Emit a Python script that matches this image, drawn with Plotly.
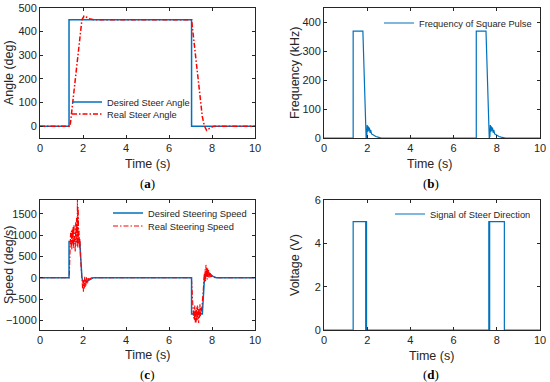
import plotly.graph_objects as go

# ---------------- data ----------------
# (a) steer angle
t_des_angle = [0, 1.35, 1.35, 7.05, 7.05, 10]
des_angle = [0, 0, 450, 450, 0, 0]
t_real_angle = [0, 1.40, 1.95, 2.05, 2.15, 2.3, 2.5, 7.05, 7.55, 7.65, 7.75, 7.9, 8.1, 10]
real_angle = [0, 0, 450, 466, 462, 455, 450, 450, 40, 0, -18, -8, 0, 0]

# (b) frequency of square pulse
t_freq = [0, 1.35, 1.35, 1.80, 1.95, 1.98, 2.00, 2.03, 2.05, 2.08, 2.10, 2.13, 2.16, 2.20, 2.25,
          2.30, 2.40, 2.50, 2.65, 7.05, 7.05, 7.50, 7.65, 7.68, 7.70, 7.73, 7.75, 7.78, 7.80,
          7.83, 7.86, 7.90, 7.95, 8.00, 8.10, 8.20, 8.40, 10]
freq = [0, 0, 370, 370, 0, 5, 45, 22, 40, 25, 36, 18, 28, 14, 12,
        9, 5, 3, 0, 0, 370, 370, 0, 5, 45, 22, 40, 25, 36,
        18, 28, 14, 12, 9, 5, 3, 0, 0]

# (c) steering speed
t_des_speed = [0, 1.35, 1.35, 1.85, 1.95, 2.0, 2.2, 2.35, 2.5, 7.05, 7.05, 7.55, 7.65, 7.7, 7.9, 8.05, 8.2, 10]
des_speed = [0, 0, 850, 850, 0, -80, -80, -30, 0, 0, -850, -850, 0, 80, 80, 30, 0, 0]
t_real_speed = [0, 1.36, 1.38, 1.40, 1.42, 1.44, 1.46, 1.48, 1.50, 1.52, 1.54, 1.56, 1.58, 1.60,
                1.62, 1.64, 1.66, 1.68, 1.70, 1.72, 1.74, 1.76, 1.78, 1.80, 1.82, 1.84, 1.86,
                1.88, 1.90, 1.92, 1.94, 1.96, 1.98, 2.00, 2.02, 2.04, 2.06, 2.08, 2.10, 2.12,
                2.14, 2.16, 2.18, 2.20, 2.22, 2.24, 2.26, 2.30, 2.35, 2.40, 2.50,
                7.04, 7.06, 7.08, 7.10, 7.12, 7.14, 7.16, 7.18, 7.20, 7.22, 7.24, 7.26, 7.28,
                7.30, 7.32, 7.34, 7.36, 7.38, 7.40, 7.42, 7.44, 7.46, 7.48, 7.50, 7.52, 7.54,
                7.56, 7.58, 7.60, 7.62, 7.64, 7.66, 7.68, 7.70, 7.72, 7.74, 7.76, 7.78, 7.80,
                7.82, 7.84, 7.86, 7.88, 7.90, 7.92, 7.94, 7.96, 7.98, 8.00, 8.04, 8.10, 8.20, 10]
real_speed = [0, 0, 300, 700, 1050, 750, 1100, 650, 1150, 800, 1200, 700, 1250, 850,
              1100, 600, 1300, 900, 1400, 750, 1850, 700, 1650, 800, 1100, 700, 900,
              500, 350, 150, 0, -150, -250, -60, -330, -50, -250, 20, -220, -40,
              -180, 30, -140, -20, -110, 10, -70, -30, -20, 0, 0,
              0, -150, -500, -800, -620, -950, -700, -1000, -650, -1050, -760, -1050, -700,
              -1000, -650, -980, -720, -1060, -680, -950, -620, -900, -700, -850, -600, -780,
              -500, -400, -200, -50, 100, -100, 200, -80, 300, 0, 250, -40, 220,
              20, 180, 0, 140, 30, 110, 10, 80, 20, 40, 10, 0, 0, 0]

# (d) steer direction signal
t_volt = [0, 1.35, 1.35, 1.93, 1.93, 1.95, 1.95, 1.97, 1.97, 7.63, 7.63, 7.65, 7.65, 7.67, 7.67, 8.35, 8.35, 10]
volt = [0, 0, 5, 5, 0, 0, 5, 5, 0, 0, 5, 5, 0, 0, 5, 5, 0, 0]

x_ticks = [0, 2, 4, 6, 8, 10]

# ---------------- figure ----------------
BLUE = "#0072BD"
RED = "#FF0000"
AX = "#262626"
FONT = "Liberation Sans"
DASHDOT = "5px,2px,1.5px,2px"

fig = go.Figure()

fig.add_trace(go.Scatter(x=t_des_angle, y=des_angle, mode="lines", name="Desired Steer Angle",
                         line=dict(color=BLUE, width=1.5), xaxis="x", yaxis="y", legend="legend"))
fig.add_trace(go.Scatter(x=t_real_angle, y=real_angle, mode="lines", name="Real Steer Angle",
                         line=dict(color=RED, width=1.5, dash=DASHDOT), xaxis="x", yaxis="y", legend="legend2"))
fig.add_trace(go.Scatter(x=t_freq, y=freq, mode="lines", name="Frequency of Square Pulse",
                         line=dict(color=BLUE, width=1.2), xaxis="x2", yaxis="y2", legend="legend3"))
fig.add_trace(go.Scatter(x=t_des_speed, y=des_speed, mode="lines", name="Desired Steering Speed",
                         line=dict(color=BLUE, width=1.5), xaxis="x3", yaxis="y3", legend="legend4"))
fig.add_trace(go.Scatter(x=t_real_speed, y=real_speed, mode="lines", name="Real Steering Speed",
                         line=dict(color=RED, width=1.1, dash=DASHDOT), xaxis="x3", yaxis="y3", legend="legend5"))
fig.add_trace(go.Scatter(x=t_volt, y=volt, mode="lines", name="Signal of Steer Direction",
                         line=dict(color=BLUE, width=1.2), xaxis="x4", yaxis="y4", legend="legend6"))

# the page body margin is removed in post_script, so figure pixels = window pixels
W, H = 550, 382
def px(x):
    return x / W
def py(y):
    return 1 - y / H
def dx(a, b):
    return [px(a), px(b)]
def dy(top, bot):
    return [py(bot), py(top)]

common_ax = dict(showline=True, linecolor=AX, linewidth=1, mirror="ticks", ticks="inside",
                 ticklen=3, tickcolor=AX, showgrid=False, zeroline=False, automargin=False,
                 tickfont=dict(family=FONT, size=11, color=AX))

def xax(dom, anchor):
    return dict(domain=dom, anchor=anchor, range=[0, 10], tickvals=x_ticks, **common_ax)

def yax(dom, anchor, rng, ticks):
    return dict(domain=dom, anchor=anchor, range=rng, tickvals=ticks, **common_ax)

XL = dx(40, 255)
XR = dx(324, 540)
YT = dy(8, 138)
YB = dy(200, 330)

leg_common = dict(bgcolor="rgba(0,0,0,0)", borderwidth=0, xanchor="left", yanchor="middle",
                  font=dict(family=FONT, size=9.3, color=AX), itemwidth=30)

def leg(xpx, ypx):
    return dict(x=px(xpx), y=py(ypx), **leg_common)

fig.update_layout(
    width=W, height=H, margin=dict(l=0, r=0, t=0, b=0, autoexpand=False),
    paper_bgcolor="white", plot_bgcolor="white",
    xaxis=xax(XL, "y"), yaxis=yax(YT, "x", [-50, 500], [0, 100, 200, 300, 400, 500]),
    xaxis2=xax(XR, "y2"), yaxis2=yax(YT, "x2", [0, 450], [0, 100, 200, 300, 400]),
    xaxis3=xax(XL, "y3"), yaxis3=yax(YB, "x3", [-1225, 1820], [-1000, -500, 0, 500, 1000, 1500]),
    xaxis4=xax(XR, "y4"), yaxis4=yax(YB, "x4", [0, 6], [0, 2, 4, 6]),
    legend=leg(67, 102),
    legend2=leg(67, 114),
    legend3=leg(379, 23),
    legend4=leg(108, 213),
    legend5=leg(108, 226),
    legend6=leg(390, 214),
    showlegend=True,
)

title_font = dict(family=FONT, size=12.5, color=AX)
# axis titles
for txt, cx, cy in [("Time (s)", 147, 164), ("Time (s)", 429, 164),
                    ("Time (s)", 147, 355), ("Time (s)", 431, 356)]:
    fig.add_annotation(text=txt, x=px(cx), y=py(cy), xref="paper", yref="paper",
                       showarrow=False, xanchor="center", yanchor="middle", font=title_font)
for txt, cx, cy in [("Angle (deg)", 9, 73), ("Frequency (kHz)", 295, 73),
                    ("Speed (deg/s)", 9, 265), ("Voltage (V)", 295, 265)]:
    fig.add_annotation(text=txt, x=px(cx), y=py(cy), xref="paper", yref="paper", textangle=-90,
                       showarrow=False, xanchor="center", yanchor="middle", font=title_font)

for txt, cx, cy in [("a", 147, 183), ("b", 431, 183), ("c", 147, 374), ("d", 431, 374)]:
    fig.add_annotation(text=f"(<b>{txt}</b>)", x=px(cx), y=py(cy), xref="paper", yref="paper",
                       showarrow=False, xanchor="center", yanchor="middle",
                       font=dict(family="Liberation Serif", size=13, color="black"))

fig.write_html("out.html", config={"displayModeBar": False},
               post_script="document.body.style.margin='0';document.body.style.padding='0';")
